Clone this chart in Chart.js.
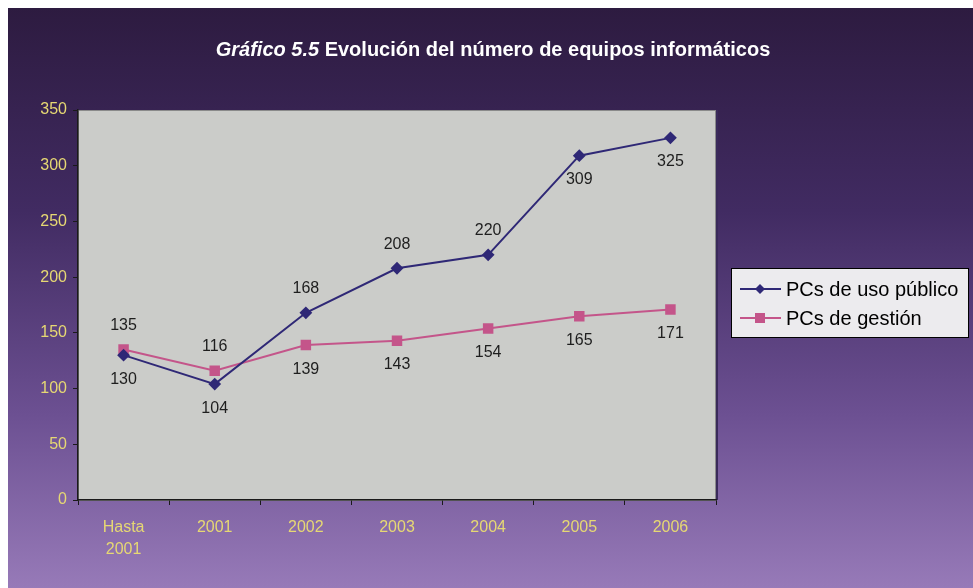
<!DOCTYPE html>
<html>
<head>
<meta charset="utf-8">
<script src="https://cdn.jsdelivr.net/npm/chart.js@4.4.0/dist/chart.umd.min.js"></script>
<style>
  html, body { margin: 0; padding: 0; background: #ffffff; }
  #wrap { width: 973px; height: 588px; position: relative; }
</style>
</head>
<body>
<div id="wrap"><canvas id="c" width="973" height="588"></canvas></div>
<script>
// Equipment counts per year
const categories = [["Hasta", "2001"], "2001", "2002", "2003", "2004", "2005", "2006"];
const publicPCs = [130, 104, 168, 208, 220, 309, 325];
const adminPCs = [135, 116, 139, 143, 154, 165, 171];
const seriesNames = ["PCs de uso público", "PCs de gestión"];
// where each value label sits relative to its point: -1 above, 1 below
const publicLabelSide = [1, 1, -1, -1, -1, 1, 1];
const adminLabelSide = [-1, -1, 1, 1, 1, 1, 1];
const yTicks = [0, 50, 100, 150, 200, 250, 300, 350];

const publicColor = "#2f2876";
const adminColor = "#c4558a";
const FONT = "'Liberation Sans', Arial, sans-serif";

const backdrop = {
  id: "backdrop",
  beforeDraw(chart) {
    const ctx = chart.ctx;
    ctx.save();
    ctx.fillStyle = "#ffffff";
    ctx.fillRect(0, 0, chart.width, chart.height);
    const g = ctx.createLinearGradient(0, 8, 0, chart.height);
    g.addColorStop(0, "#2d1b40");
    g.addColorStop(0.35, "#412b62");
    g.addColorStop(0.7, "#6c5092");
    g.addColorStop(1, "#977ab8");
    ctx.fillStyle = g;
    ctx.fillRect(8, 8, chart.width - 8, chart.height - 8);
    const a = chart.chartArea;
    ctx.fillStyle = "#cbccc9";
    ctx.fillRect(a.left, a.top, a.right - a.left, a.bottom - a.top);
    ctx.strokeStyle = "#8a8a8a";
    ctx.lineWidth = 1;
    ctx.strokeRect(a.left + 0.5, a.top + 0.5, a.right - a.left - 1, a.bottom - a.top);
    ctx.strokeStyle = "#3a2a5a";
    ctx.lineWidth = 2;
    ctx.beginPath();
    ctx.moveTo(a.right + 1, a.top);
    ctx.lineTo(a.right + 1, a.bottom);
    ctx.stroke();
    ctx.restore();
  },
  afterDraw(chart) {
    const ctx = chart.ctx;
    ctx.save();
    // title
    const t1 = "Gráfico 5.5";
    const t2 = " Evolución del número de equipos informáticos";
    ctx.fillStyle = "#ffffff";
    ctx.textBaseline = "middle";
    ctx.font = "italic bold 20px " + FONT;
    const w1 = ctx.measureText(t1).width;
    ctx.font = "bold 20px " + FONT;
    const w2 = ctx.measureText(t2).width;
    const x0 = 493 - (w1 + w2) / 2;
    ctx.textAlign = "left";
    ctx.font = "italic bold 20px " + FONT;
    ctx.fillText(t1, x0, 50);
    ctx.font = "bold 20px " + FONT;
    ctx.fillText(t2, x0 + w1, 50);

    // value labels
    ctx.font = "16px " + FONT;
    ctx.fillStyle = "#1e1e1e";
    ctx.textAlign = "center";
    const sides = [publicLabelSide, adminLabelSide];
    chart.data.datasets.forEach((ds, di) => {
      const meta = chart.getDatasetMeta(di);
      meta.data.forEach((pt, i) => {
        ctx.fillText(String(ds.data[i]), pt.x, pt.y + sides[di][i] * 24);
      });
    });

    // legend
    const lx = 731, ly = 268, lw = 237, lh = 69;
    ctx.fillStyle = "#ecebee";
    ctx.fillRect(lx, ly, lw, lh);
    ctx.strokeStyle = "#000000";
    ctx.lineWidth = 1;
    ctx.strokeRect(lx + 0.5, ly + 0.5, lw, lh);
    ctx.font = "20px " + FONT;
    ctx.textAlign = "left";
    chart.data.datasets.forEach((ds, di) => {
      const y = 289 + di * 29;
      ctx.strokeStyle = ds.borderColor;
      ctx.lineWidth = 2;
      ctx.beginPath();
      ctx.moveTo(740, y);
      ctx.lineTo(781, y);
      ctx.stroke();
      ctx.fillStyle = ds.pointBackgroundColor;
      ctx.beginPath();
      if (ds.pointStyle === "rectRot") {
        ctx.moveTo(760, y - 5); ctx.lineTo(765, y); ctx.lineTo(760, y + 5); ctx.lineTo(755, y);
      } else {
        ctx.rect(755, y - 5, 10, 10);
      }
      ctx.closePath();
      ctx.fill();
      ctx.fillStyle = "#000000";
      ctx.fillText(ds.label, 786, y + 1);
    });
    ctx.restore();
  }
};

new Chart(document.getElementById("c"), {
  type: "line",
  data: {
    labels: categories,
    datasets: [
      {
        label: seriesNames[0],
        data: publicPCs,
        borderColor: publicColor,
        backgroundColor: publicColor,
        pointBackgroundColor: publicColor,
        pointBorderColor: publicColor,
        pointStyle: "rectRot",
        pointRadius: 5,
        borderWidth: 2,
        tension: 0
      },
      {
        label: seriesNames[1],
        data: adminPCs,
        borderColor: adminColor,
        backgroundColor: adminColor,
        pointBackgroundColor: adminColor,
        pointBorderColor: adminColor,
        pointStyle: "rect",
        pointRadius: 6,
        borderWidth: 2,
        tension: 0
      }
    ]
  },
  options: {
    responsive: false,
    animation: false,
    devicePixelRatio: 1,
    layout: { padding: { top: 110, right: 257, bottom: 28, left: 10 } },
    plugins: {
      legend: { display: false },
      title: { display: false },
      tooltip: { enabled: false }
    },
    scales: {
      x: {
        offset: true,
        afterFit(s) { s.height = 60; },
        grid: { display: true, drawOnChartArea: false, drawTicks: true, tickLength: 5, color: "#1a1a1a", offset: true },
        border: { display: true, color: "#1a1a1a", width: 1.5 },
        ticks: {
          color: "#e6d873",
          font: { family: FONT, size: 16, lineHeight: 1.4 },
          padding: 11,
          maxRotation: 0,
          autoSkip: false
        }
      },
      y: {
        min: 0,
        max: 350,
        afterFit(s) { s.width = 68; },
        afterBuildTicks(s) { s.ticks = yTicks.map(v => ({ value: v })); },
        grid: { display: true, drawOnChartArea: false, drawTicks: true, tickLength: 5, color: "#1a1a1a" },
        border: { display: true, color: "#1a1a1a", width: 1.5 },
        ticks: {
          color: "#e6d873",
          font: { family: FONT, size: 16 },
          padding: 6
        }
      }
    }
  },
  plugins: [backdrop]
});
</script>
</body>
</html>
